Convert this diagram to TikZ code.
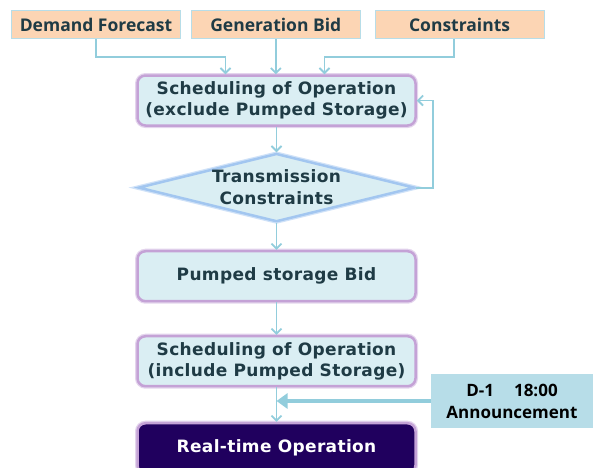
\documentclass[tikz,border=0pt]{standalone}
\usepackage{fontspec}
\setmainfont{Open Sans}
\newfontfamily\labelfont{Open Sans}
\newfontfamily\stepfont[LetterSpace=2]{DejaVu Sans}
\usetikzlibrary{positioning,arrows.meta,shapes.geometric,calc}

\definecolor{peach}{HTML}{FCD5B4}
\definecolor{edgeblue}{HTML}{B7DDE8}
\definecolor{pale}{HTML}{DAEEF3}
\definecolor{lav}{HTML}{C4A2D6}
\definecolor{skyline}{HTML}{A2C6F0}
\definecolor{flowc}{HTML}{92CDDC}
\definecolor{ink}{HTML}{1F3B45}
\definecolor{night}{HTML}{20005E}

\begin{document}
\begin{tikzpicture}[
  x=1pt, y=-1pt,
  inbox/.style={rectangle, draw=edgeblue, fill=peach, text=ink, minimum width=169pt, minimum height=28pt, font=\labelfont\bfseries\fontsize{17.5}{20}\selectfont, line width=0.8pt},
  procbox/.style={rectangle, rounded corners=8pt, draw=lav, fill=#1, preaction={draw=lav!45, line width=5pt}, line width=2.5pt, minimum width=278pt, minimum height=50pt, align=center, font=\stepfont\bfseries\fontsize{17}{21.5}\selectfont},
  procbox/.default=pale,
  checkbox/.style={diamond, draw=skyline, fill=pale, preaction={draw=skyline!50, line width=5pt}, line width=2.5pt, text=ink, inner sep=0pt, shape aspect=3.9, minimum width=276pt, minimum height=68pt, align=center, font=\stepfont\bfseries\fontsize{17}{22}\selectfont},
  notebox/.style={rectangle, fill=edgeblue, text=black, minimum width=162pt, minimum height=54pt, align=center, font=\labelfont\bfseries\fontsize{17}{22}\selectfont},
  flow/.style={draw=flowc, line width=1.8pt, -{Straight Barb[length=5pt,width=10pt]}},
  bigflow/.style={draw=flowc, line width=4pt, -{Triangle[length=11pt,width=15pt]}},
]
  \useasboundingbox (0,0) rectangle (594,467);

  % inputs
  \node[inbox] (demand) at (96,24.5) {Demand Forecast};
  \node[inbox, right=10pt of demand] (genbid) {Generation Bid};
  \node[inbox, right=14pt of genbid] (constr) {Constraints};

  % main column
  \node[procbox, text=ink] (sched1) at (276.5,100.5) {Scheduling of Operation\\(exclude Pumped Storage)};
  \node[checkbox, below=25.5pt of sched1] (check) {Transmission\\Constraints};
  \node[procbox, text=ink, below=27pt of check] (pumped) {Pumped storage Bid};
  \node[procbox, text=ink, below=32.5pt of pumped] (sched2) {Scheduling of Operation\\(include Pumped Storage)};
  \node[procbox=night, text=white, below=34.5pt of sched2] (realtime) {Real-time Operation};

  \node[notebox] (ann) at (512,401) {D-1\hspace{20pt}18:00\\Announcement};

  \draw[flow] (demand.south) -- ++(0,18) -| ([xshift=-51pt]sched1.north);
  \draw[flow] (genbid.south) -- (genbid.south |- sched1.north);
  \draw[flow] ([xshift=-6pt]constr.south) -- ++(0,18) -| ([xshift=48pt]sched1.north);

  \draw[flow] (sched1.south) -- (check.north);
  \draw[flow] (check.east) -- ++(17,0) |- (sched1.east);
  \draw[flow] (check.south) -- (pumped.north);
  \draw[flow] (pumped.south) -- (sched2.north);
  \draw[flow] (sched2.south) -- (realtime.north);

  \coordinate (join) at (sched2.south |- ann.west);
  \draw[bigflow] (ann.west) -- (join);
\end{tikzpicture}
\end{document}
